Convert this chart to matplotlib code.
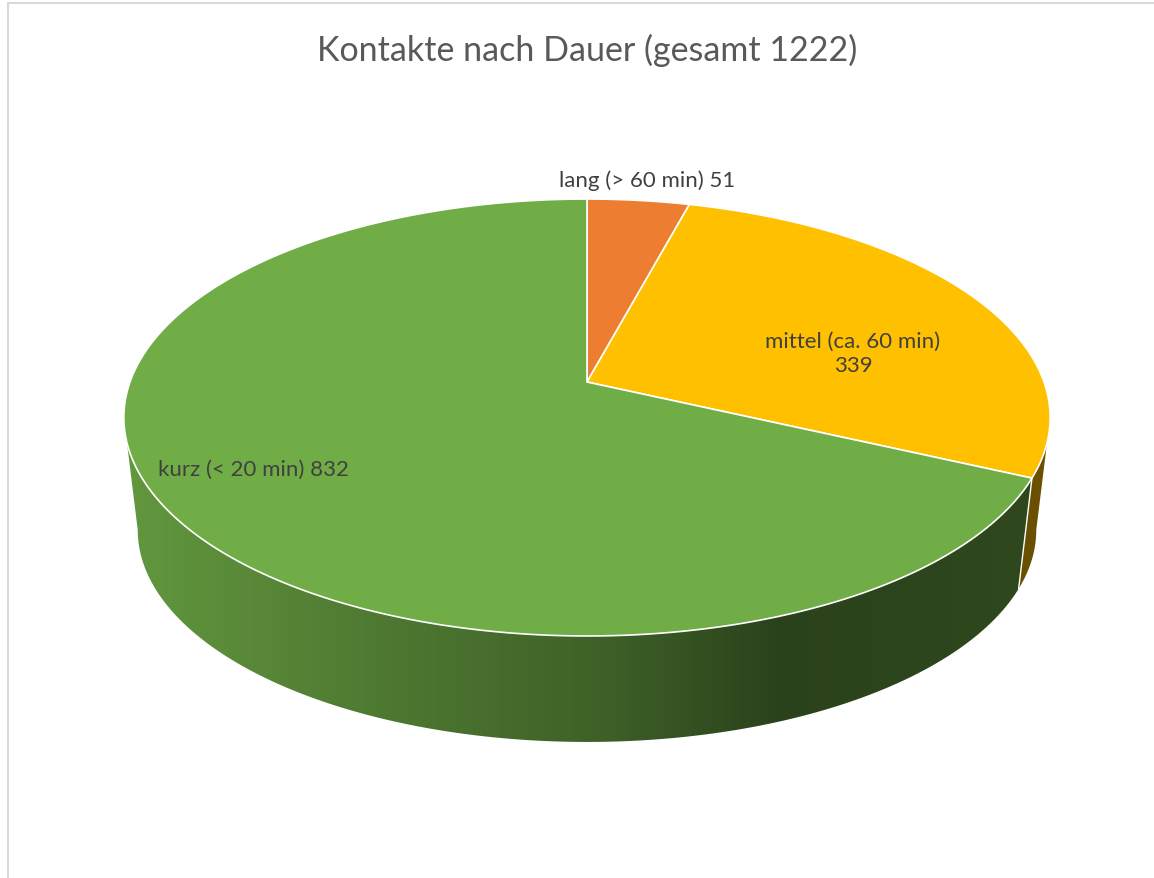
import numpy as np
import matplotlib.pyplot as plt
from matplotlib.patches import Polygon
from matplotlib.colors import to_rgb

labels = ['lang (> 60 min)', 'mittel (ca. 60 min)', 'kurz (< 20 min)']
values = [51, 339, 832]
colors = ['#ED7D31', '#FFC000', '#70AD47']
title = 'Kontakte nach Dauer (gesamt 1222)'

W, H = 1154, 879
# perspective ellipse of the top face and the (slightly smaller) bottom face
CX, CY = 587, 383
A, B, K = 457, 212.7, 0.1625
S, CYB = 0.97, 496.6


def project(theta, scale, cy):
    # theta in degrees, clockwise from 12 o'clock
    t = np.radians(theta)
    x, y = np.sin(t), np.cos(t)
    w = 1 + K * y
    return CX + scale * A * x / w, cy - scale * B * y / w


def top(theta):
    return project(theta, 1.0, CY)


def bottom(theta):
    return project(theta, S, CYB)


# shading of the side wall, darker towards the right
shade_x = [120, 350, 600, 780, 1060]
shade_f = [0.88, 0.72, 0.56, 0.38, 0.42]

fig = plt.figure(figsize=(11.54, 8.79), dpi=100)
ax = fig.add_axes([0, 0, 1, 1])
ax.set_xlim(0, W)
ax.set_ylim(H, 0)
ax.axis('off')

total = sum(values)
edges = np.concatenate([[0], np.cumsum(values) / total * 360])

# visible part of the wall (between the two silhouettes)
lo = np.degrees(np.arctan2(np.sqrt(1 - K ** 2), -K))
hi = 360 - lo

xs = np.arange(100, 1070)
f = np.interp(xs, shade_x, shade_f)
for i in range(len(values)):
    a, b = max(edges[i], lo), min(edges[i + 1], hi)
    if a >= b:
        continue
    th = np.linspace(a, b, 200)
    tx, ty = top(th)
    bx, by = bottom(th[::-1])
    poly = Polygon(np.column_stack([np.r_[tx, bx], np.r_[ty, by]]),
                   closed=True, facecolor='none', edgecolor='none')
    ax.add_patch(poly)
    img = np.array(to_rgb(colors[i]))[None, None, :] * f[None, :, None]
    im = ax.imshow(img, extent=(xs[0], xs[-1], 760, 380), aspect='auto',
                   interpolation='bilinear', zorder=1)
    im.set_clip_path(poly)

# white edge where slices meet on the wall
for e in edges[1:-1]:
    if lo < e < hi:
        x0, y0 = top(e)
        x1, y1 = bottom(e)
        ax.plot([x0, x1], [y0, y1], color='white', lw=1.0, zorder=2)

# top face
for i in range(len(values)):
    th = np.linspace(edges[i], edges[i + 1], 300)
    tx, ty = top(th)
    pts = np.column_stack([np.r_[CX, tx], np.r_[CY, ty]])
    ax.add_patch(Polygon(pts, closed=True, facecolor=colors[i],
                         edgecolor='white', lw=1.2, zorder=3))

font = 'Lato'
txt = '#404040'
ax.text(647, 181, f'{labels[0]} {values[0]}', ha='center', va='center',
        fontsize=16, color=txt, family=font, zorder=5)
ax.text(853, 354, f'{labels[1]}\n{values[1]}', ha='center', va='center',
        fontsize=16, color=txt, family=font, linespacing=1.25, zorder=5)
ax.text(253, 470, f'{labels[2]} {values[2]}', ha='center', va='center',
        fontsize=16, color=txt, family=font, zorder=5)

ax.text(587, 50, title, ha='center', va='center', fontsize=24.5,
        color='#595959', family=font)

# chart area border
ax.plot([8, 8, W + 5], [H + 5, 4, 4], color='#D9D9D9', lw=1.5,
        solid_joinstyle='miter', clip_on=False)

fig.savefig('out.png', dpi=100, facecolor='white')
